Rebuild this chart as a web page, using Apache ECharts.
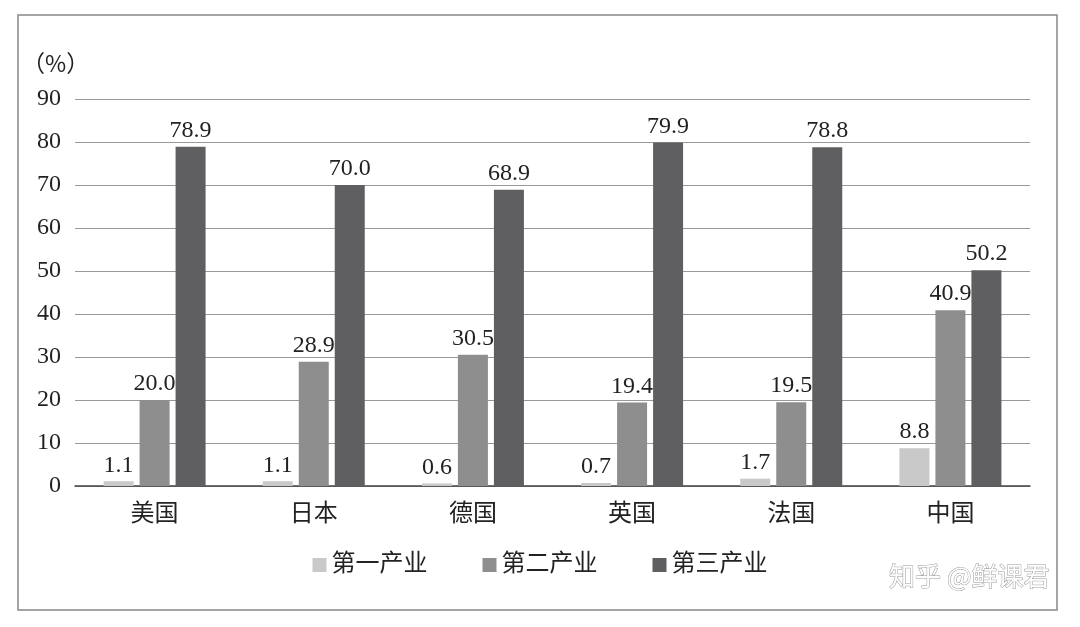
<!DOCTYPE html>
<html><head><meta charset="utf-8">
<script src="https://cdn.jsdelivr.net/npm/echarts@6/dist/echarts.min.js"></script>
<style>html,body{margin:0;padding:0;background:#fff}#c{width:1080px;height:627px}</style>
</head><body><div id="c"></div>
<script>
const categories = ['美国','日本','德国','英国','法国','中国'];
const seriesNames = ['第一产业','第二产业','第三产业'];
const primary = [1.1,1.1,0.6,0.7,1.7,8.8];
const secondary = [20.0,28.9,30.5,19.4,19.5,40.9];
const tertiary = [78.9,70.0,68.9,79.9,78.8,50.2];
const colors = ['#c9c9c9','#8e8e8e','#5f5f61'];
const font = '"Liberation Serif","Noto Sans CJK SC",serif';
const chart = echarts.init(document.getElementById('c'));
const mk = (name, data, i) => ({
  name, type:'bar', data, barWidth:30, barGap:'20%',
  itemStyle:{color:colors[i]},
  label:{show:true, position:'top', formatter:p=>p.value.toFixed(1), color:'#222', fontSize:24, fontFamily:font, distance:4}
});
chart.setOption({
  animation:false,
  graphic:[
    {type:'rect', shape:{x:18,y:15,width:1039,height:595}, style:{fill:'none', stroke:'#888', lineWidth:1.5}},
    {type:'text', left:22, top:52, style:{text:'（%）', font:'23px "Noto Sans CJK SC"', fill:'#222'}},
    {type:'text', right:30, top:563, style:{text:'知乎 @鲜课君', font:'26px "Noto Sans CJK SC"', fill:'#fff', stroke:'#999', lineWidth:1}}
  ],
  legend:{bottom:45, left:'center', itemWidth:14, itemHeight:14, itemGap:55, icon:'rect',
    textStyle:{fontSize:24, fontFamily:font, color:'#222'}, data:seriesNames},
  grid:{left:75, right:50, top:99, bottom:141},
  xAxis:{type:'category', data:categories, axisLine:{lineStyle:{color:'#444', width:1.5}}, axisTick:{show:false},
    axisLabel:{fontSize:24, fontFamily:font, color:'#222', margin:17}},
  yAxis:{type:'value', min:0, max:90, interval:10, axisLine:{show:false}, axisTick:{show:false},
    splitLine:{lineStyle:{color:'#999', width:1.2}},
    axisLabel:{fontSize:24, fontFamily:font, color:'#222', margin:14}},
  series:[mk(seriesNames[0],primary,0), mk(seriesNames[1],secondary,1), mk(seriesNames[2],tertiary,2)]
});
</script></body></html>
